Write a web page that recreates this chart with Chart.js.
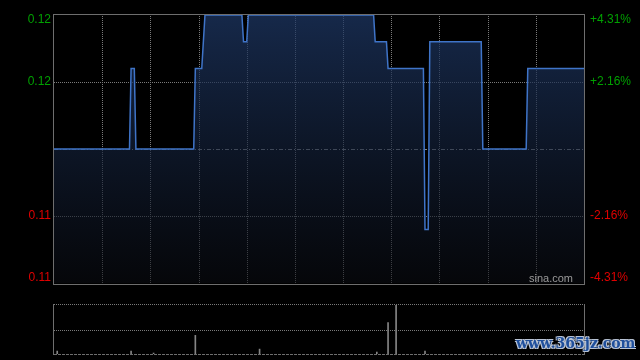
<!DOCTYPE html>
<html>
<head>
<meta charset="utf-8">
<script src="https://cdn.jsdelivr.net/npm/chart.js@4.4.1/dist/chart.umd.min.js"></script>
<style>
  body { margin: 0; background: #000; }
  #wrap { position: relative; width: 640px; height: 360px; background: #000; overflow: hidden; }
  canvas { position: absolute; left: 0; top: 0; }
  #mark {
    position: absolute; left: 516px; top: 335px;
    font: bold 14px "DejaVu Serif", serif; color: #1f4f9c;
    text-shadow: -1px -1px 0 #b9c4d6, 1px -1px 0 #b9c4d6, -1px 1px 0 #b9c4d6, 1px 1px 0 #b9c4d6;
  }
</style>
</head>
<body>
<div id="wrap">
  <canvas id="priceChart" width="640" height="360"></canvas>
  <canvas id="volumeChart" width="640" height="360"></canvas>
  <div id="mark">www.365jz.com</div>
</div>
<script>
// minutes since open (9:30, 330 trading minutes) and price
const minutes = [0, 47, 48, 50, 51, 87, 88, 92, 94, 117, 118, 120, 121, 199, 200, 207, 208, 230, 231, 233, 234, 266, 267, 294, 295, 330];
const prices = [0.116, 0.116, 0.119, 0.119, 0.116, 0.116, 0.119, 0.119, 0.121, 0.121, 0.120, 0.120, 0.121, 0.121, 0.120, 0.120, 0.119, 0.119, 0.113, 0.113, 0.120, 0.120, 0.116, 0.116, 0.119, 0.119];

const prevClose = 0.116;
const priceMin = 0.111;
const priceMax = 0.121;
const priceTicks = [0.121, 0.1185, 0.1135, 0.111];
const priceLabels = ['0.12', '0.12', '0.11', '0.11'];
const pctLabels = ['+4.31%', '+2.16%', '-2.16%', '-4.31%'];
const timeGrid = [30, 60, 90, 120, 150, 180, 210, 240, 270, 300];

const volMinutes = [2, 48, 62, 88, 128, 201, 208, 213, 231];
const volumes = [60, 60, 20, 380, 100, 40, 640, 1000, 60];
const volMax = 1000;

const FRAME = '#6e6e6e';
const GRID = '#7a7a7a';
const GREEN = '#00a000';
const RED = '#e00000';

function hLine(ctx, x1, x2, y, dash, color) {
    ctx.save();
    ctx.strokeStyle = color;
    ctx.lineWidth = 1;
    ctx.setLineDash(dash);
    ctx.beginPath();
    ctx.moveTo(x1, Math.round(y) + 0.5);
    ctx.lineTo(x2, Math.round(y) + 0.5);
    ctx.stroke();
    ctx.restore();
}
function vLine(ctx, x, y1, y2, dash, color) {
    ctx.save();
    ctx.strokeStyle = color;
    ctx.lineWidth = 1;
    ctx.setLineDash(dash);
    ctx.beginPath();
    ctx.moveTo(Math.round(x) + 0.5, y1);
    ctx.lineTo(Math.round(x) + 0.5, y2);
    ctx.stroke();
    ctx.restore();
}

// grid + frame for price panel
const priceGrid = {
    id: 'priceGrid',
    beforeDatasetsDraw(chart) {
        const { ctx, chartArea: a, scales: { x, y } } = chart;
        const top = a.top - 1, bottom = a.bottom + 1;
        timeGrid.forEach(m => vLine(ctx, x.getPixelForValue(m), top, bottom, [1, 1], GRID));
        [0.1185, 0.1135].forEach(v => hLine(ctx, a.left, a.right, y.getPixelForValue(v), [1, 1], GRID));
        hLine(ctx, a.left, a.right, y.getPixelForValue(prevClose), [4, 2, 1, 2], '#8a8a8a');
    },
    afterDraw(chart) {
        const { ctx, chartArea: a, scales: { y } } = chart;
        const top = a.top - 1, bottom = a.bottom + 1;
        ctx.save();
        ctx.strokeStyle = FRAME;
        ctx.lineWidth = 1;
        ctx.strokeRect(a.left - 0.5, top + 0.5, a.right - a.left + 1, bottom - top);
        ctx.font = '12px "Liberation Sans", Arial, sans-serif';
        ctx.textBaseline = 'middle';
        priceTicks.forEach((v, i) => {
            let py = y.getPixelForValue(v);
            py = Math.max(top + 6, Math.min(bottom - 6, py));
            ctx.fillStyle = v > prevClose ? GREEN : RED;
            ctx.textAlign = 'right';
            ctx.fillText(priceLabels[i], a.left - 3, py);
            ctx.textAlign = 'left';
            ctx.fillText(pctLabels[i], a.right + 6, py);
        });
        ctx.fillStyle = '#9a9a9a';
        ctx.font = '11px "Liberation Sans", Arial, sans-serif';
        ctx.textAlign = 'right';
        ctx.textBaseline = 'alphabetic';
        ctx.fillText('sina.com', a.right - 11, bottom - 2);
        ctx.restore();
    }
};

const priceCtx = document.getElementById('priceChart').getContext('2d');
const fillGrad = priceCtx.createLinearGradient(0, 15, 0, 283);
fillGrad.addColorStop(0, 'rgba(30, 56, 102, 0.72)');
fillGrad.addColorStop(1, 'rgba(10, 12, 18, 0.55)');

const priceChart = new Chart(priceCtx, {
    type: 'line',
    data: {
        datasets: [{
            data: minutes.map((m, i) => ({ x: m, y: prices[i] })),
            borderColor: '#3f74c8',
            borderWidth: 1.5,
            backgroundColor: fillGrad,
            fill: 'start',
            pointRadius: 0,
            tension: 0,
            clip: false
        }]
    },
    options: {
        responsive: false,
        animation: false,
        layout: { padding: { left: 54, right: 56, top: 15, bottom: 77 } },
        plugins: { legend: { display: false }, tooltip: { enabled: false } },
        scales: {
            x: { type: 'linear', min: 0, max: 330, display: false },
            y: { min: priceMin, max: priceMax, display: false }
        }
    },
    plugins: [priceGrid]
});

// frame for volume panel
const volumeFrame = {
    id: 'volumeFrame',
    beforeDatasetsDraw(chart) {
        const { ctx, chartArea: a, scales: { y } } = chart;
        hLine(ctx, a.left, a.right, a.top - 1, [1, 1], GRID);
        hLine(ctx, a.left, a.right, y.getPixelForValue(volMax / 2), [1, 1], GRID);
        hLine(ctx, a.left, a.right, a.bottom, [3, 1], FRAME);
        vLine(ctx, a.left - 1, a.top - 1, a.bottom + 1, [], FRAME);
        vLine(ctx, a.right, a.top - 1, a.bottom + 1, [], FRAME);
    }
};

const volumeCtx = document.getElementById('volumeChart').getContext('2d');
const volumeChart = new Chart(volumeCtx, {
    type: 'bar',
    data: {
        datasets: [{
            data: volMinutes.map((m, i) => ({ x: m, y: volumes[i] })),
            backgroundColor: '#858585',
            barThickness: 1,
            borderWidth: 0
        }]
    },
    options: {
        responsive: false,
        animation: false,
        layout: { padding: { left: 54, right: 56, top: 305, bottom: 6 } },
        plugins: { legend: { display: false }, tooltip: { enabled: false } },
        scales: {
            x: { type: 'linear', min: 0, max: 330, offset: false, display: false },
            y: { min: 0, max: volMax, display: false }
        }
    },
    plugins: [volumeFrame]
});
</script>
</body>
</html>
